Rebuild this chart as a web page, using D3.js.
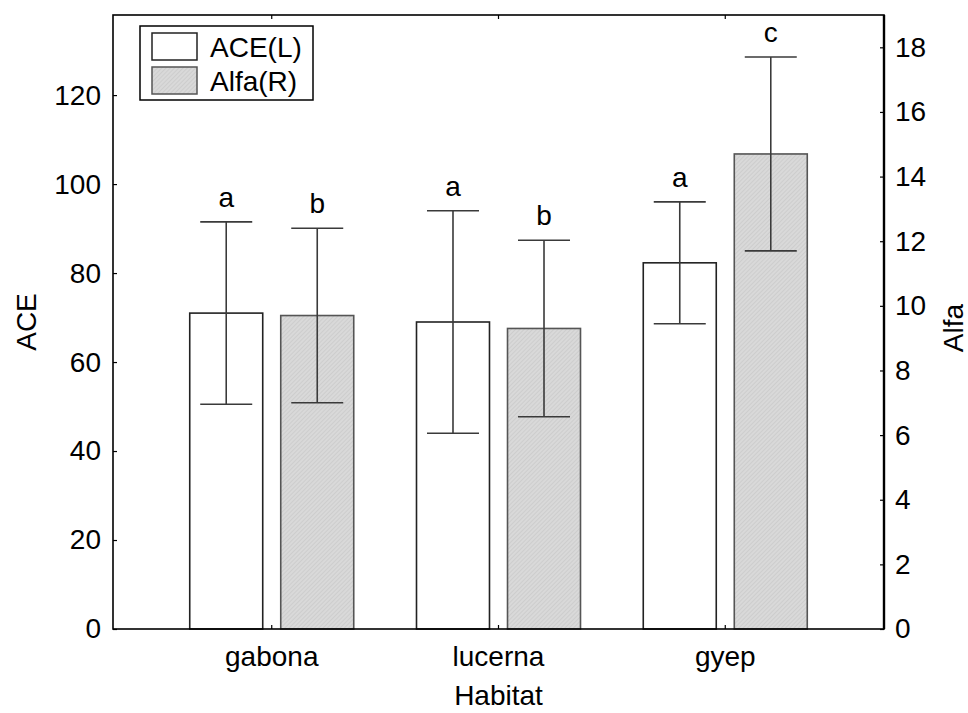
<!DOCTYPE html>
<html>
<head>
<meta charset="utf-8">
<script src="https://cdn.jsdelivr.net/npm/d3@7"></script>
<style>
  body { margin: 0; background: #fff; }
  svg text { font-family: "Liberation Sans", Arial, sans-serif; fill: #000; }
</style>
</head>
<body>
<svg id="chart" width="968" height="713"></svg>
<script>
// data
const habitats = ["gabona", "lucerna", "gyep"];
const aceMean = [71.0, 69.0, 82.3];
const aceErr = [20.5, 25.0, 13.7];
const alfaMean = [9.7, 9.3, 14.7];
const alfaErr = [2.7, 2.73, 3.0];
const aceLetters = ["a", "a", "a"];
const alfaLetters = ["b", "b", "c"];
const aceTicks = [0, 20, 40, 60, 80, 100, 120];
const alfaTicks = [0, 2, 4, 6, 8, 10, 12, 14, 16, 18];

const chart = {

    svg : d3.select("#chart"),

    left : 113,
    right : 884,
    top : 15,
    bottom : 629,

    font : 28,

    scales : function() {

        this.x = d3.scaleBand()
          .domain(habitats)
          .range([this.left, this.right])
          .paddingInner(0)
          .paddingOuter(0.2);

        const bw = this.x.bandwidth();

        // two bars per habitat, 73px wide with an 18px gap
        this.xs = d3.scaleBand()
          .domain(["ace", "alfa"])
          .range([bw / 2 - 82, bw / 2 + 82])
          .paddingInner(0.198);

        this.yL = d3.scaleLinear().domain([0, 138]).range([this.bottom, this.top]);
        this.yR = d3.scaleLinear().domain([0, 19]).range([this.bottom, this.top]);

    },

    defs : function() {

        const pat = this.svg.append("defs")
          .append("pattern")
          .attr("id", "hatch")
          .attr("patternUnits", "userSpaceOnUse")
          .attr("width", 3)
          .attr("height", 3)
          .attr("patternTransform", "rotate(45)");

        pat.append("rect").attr("width", 3).attr("height", 3).attr("fill", "#d9d9d9");
        pat.append("line")
          .attr("x1", 0).attr("y1", 0).attr("x2", 0).attr("y2", 3)
          .attr("stroke", "#c2c2c2")
          .attr("stroke-width", 1);

    },

    bars : function() {

        const self = this;
        const series = [
            { key : "ace", mean : aceMean, err : aceErr, letters : aceLetters, y : this.yL, fill : "#fff", stroke : "#222" },
            { key : "alfa", mean : alfaMean, err : alfaErr, letters : alfaLetters, y : this.yR, fill : "url(#hatch)", stroke : "#555" }
        ];

        series.forEach(function(s) {

            const g = self.svg.append("g");
            const bw = self.xs.bandwidth();

            habitats.forEach(function(h, i) {

                const x0 = self.x(h) + self.xs(s.key);
                const cx = x0 + bw / 2;

                g.append("rect")
                  .attr("x", x0)
                  .attr("y", s.y(s.mean[i]))
                  .attr("width", bw)
                  .attr("height", s.y(0) - s.y(s.mean[i]))
                  .attr("fill", s.fill)
                  .attr("stroke", s.stroke)
                  .attr("stroke-width", 1.6);

                const hi = s.y(s.mean[i] + s.err[i]);
                const lo = s.y(s.mean[i] - s.err[i]);

                g.append("line")
                  .attr("x1", cx).attr("x2", cx)
                  .attr("y1", hi).attr("y2", lo)
                  .attr("stroke", "#3a3a3a").attr("stroke-width", 1.6);

                [hi, lo].forEach(function(yy) {
                    g.append("line")
                      .attr("x1", cx - 26).attr("x2", cx + 26)
                      .attr("y1", yy).attr("y2", yy)
                      .attr("stroke", "#3a3a3a").attr("stroke-width", 1.6);
                });

                g.append("text")
                  .attr("x", cx)
                  .attr("y", hi - 15)
                  .attr("text-anchor", "middle")
                  .attr("font-size", self.font)
                  .text(s.letters[i]);

            });

        });

    },

    axes : function() {

        const self = this;

        const left = this.svg.append("g")
          .attr("transform", "translate(" + this.left + ",0)")
          .call(d3.axisRight(this.yL).tickValues(aceTicks).tickSize(4).tickSizeOuter(0));
        left.selectAll("text")
          .attr("x", -12)
          .attr("text-anchor", "end");

        const right = this.svg.append("g")
          .attr("transform", "translate(" + this.right + ",0)")
          .call(d3.axisLeft(this.yR).tickValues(alfaTicks).tickSize(4).tickSizeOuter(0));
        right.selectAll("text")
          .attr("x", 11)
          .attr("text-anchor", "start");

        const bottom = this.svg.append("g")
          .attr("transform", "translate(0," + this.bottom + ")")
          .call(d3.axisTop(this.x).tickSize(4).tickSizeOuter(0));
        bottom.selectAll("text")
          .attr("y", 37)
          .attr("dy", 0);

        const top = this.svg.append("g")
          .attr("transform", "translate(0," + this.top + ")")
          .call(d3.axisBottom(this.x).tickSize(4).tickSizeOuter(0));
        top.selectAll("text").remove();

        [left, right, bottom, top].forEach(function(a) {
            a.select(".domain").remove();
            a.selectAll("line").attr("stroke", "#000").attr("stroke-width", 1.2);
            a.selectAll("text")
              .attr("font-size", self.font)
              .attr("font-family", "Liberation Sans, Arial, sans-serif")
              .attr("fill", "#000");
        });

        // frame
        this.svg.append("rect")
          .attr("x", this.left)
          .attr("y", this.top)
          .attr("width", this.right - this.left)
          .attr("height", this.bottom - this.top)
          .attr("fill", "none")
          .attr("stroke", "#000")
          .attr("stroke-width", 1.6);

        this.svg.append("line")
          .attr("x1", this.right).attr("x2", this.right)
          .attr("y1", this.top).attr("y2", this.bottom)
          .attr("stroke", "#000").attr("stroke-width", 2.4);

        // titles
        const midY = (this.top + this.bottom) / 2;

        this.svg.append("text")
          .attr("transform", "translate(36," + midY + ") rotate(-90)")
          .attr("text-anchor", "middle")
          .attr("font-size", this.font)
          .text("ACE");

        this.svg.append("text")
          .attr("transform", "translate(963," + (midY + 6) + ") rotate(-90)")
          .attr("text-anchor", "middle")
          .attr("font-size", this.font)
          .text("Alfa");

        this.svg.append("text")
          .attr("x", (this.left + this.right) / 2)
          .attr("y", 705)
          .attr("text-anchor", "middle")
          .attr("font-size", this.font)
          .text("Habitat");

    },

    legend : function() {

        const g = this.svg.append("g");

        g.append("rect")
          .attr("x", 140).attr("y", 26)
          .attr("width", 173).attr("height", 74)
          .attr("fill", "#fff")
          .attr("stroke", "#000")
          .attr("stroke-width", 1.5);

        const items = [
            { label : "ACE(L)", fill : "#fff", stroke : "#222" },
            { label : "Alfa(R)", fill : "url(#hatch)", stroke : "#555" }
        ];

        items.forEach(function(d, i) {
            g.append("rect")
              .attr("x", 152).attr("y", 33 + i * 34)
              .attr("width", 45).attr("height", 27)
              .attr("fill", d.fill)
              .attr("stroke", d.stroke)
              .attr("stroke-width", 1.5);
            g.append("text")
              .attr("x", 210).attr("y", 57 + i * 34)
              .attr("font-size", 28)
              .text(d.label);
        });

    },

    init : function() {
        this.scales();
        this.defs();
        this.bars();
        this.axes();
        this.legend();
    }

};

chart.init();
</script>
</body>
</html>
